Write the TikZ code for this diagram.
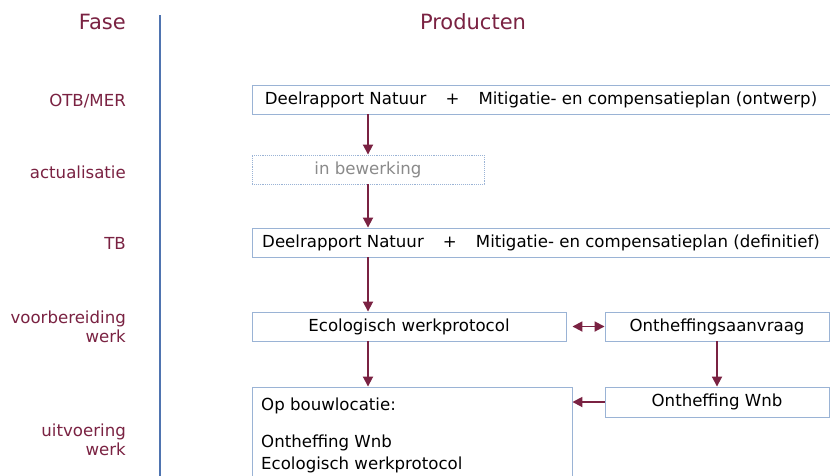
\documentclass[tikz,border=0pt]{standalone}
\usepackage{fontspec}
\setmainfont{DejaVu Sans}
\usetikzlibrary{arrows.meta}
\definecolor{maroon}{HTML}{7A2242}
\definecolor{boxline}{HTML}{9AB3D5}
\definecolor{axisline}{HTML}{4F74B0}
\definecolor{greytext}{HTML}{8A8A8A}
\tikzset{
  prodbox/.style={draw=boxline, line width=0.9pt, rectangle, minimum height=29pt,
    inner sep=0pt, font=\fontsize{16.6}{19}\selectfont, text=black},
  phase/.style={anchor=east, align=right, text=maroon, inner sep=0pt,
    font=\fontsize{16.6}{19.5}\selectfont},
  heading/.style={text=maroon, inner sep=0pt, font=\fontsize{21}{24}\selectfont},
  flow/.style={draw=maroon, line width=1.8pt, -{Triangle[width=10pt,length=10pt]}},
  flowboth/.style={draw=maroon, line width=1.8pt, {Triangle[width=10pt,length=10pt]}-{Triangle[width=10pt,length=10pt]}}
}
\begin{document}
\begin{tikzpicture}[x=1pt,y=-1pt]
\useasboundingbox (0,0) rectangle (830,475);
\fill[white] (0,0) rectangle (830,475);

% column headings and separator
\node[heading, anchor=east] (fase) at (126,22) {Fase};
\node[heading] (prod) at (473,22) {Producten};
\coordinate (axtop) at (160,15);
\coordinate (axbot) at (160,480);
\draw[axisline, line width=1.6pt] (axtop) -- (axbot);

% phases
\node[phase] (p1) at (126,101) {OTB/MER};
\node[phase] (p2) at (126,172) {actualisatie};
\node[phase] (p3) at (126,243) {TB};
\node[phase] (p4) at (126,327) {voorbereiding\\werk};
\node[phase] (p5) at (126,440) {uitvoering\\werk};

% products
\node[prodbox, minimum width=578pt] (b1) at (541,99.5)
  {Deelrapport Natuur\hspace{1.15em}+\hspace{1.15em}Mitigatie- en compensatieplan (ontwerp)};
\node[prodbox, minimum width=232pt, densely dotted, text=greytext] (b2) at (368,169.5) {in bewerking};
\node[prodbox, minimum width=578pt] (b3) at (541,242.5)
  {Deelrapport Natuur\hspace{1.15em}+\hspace{1.15em}Mitigatie- en compensatieplan (definitief)};
\node[prodbox, minimum width=314pt] (b4) at (409,326.5) {Ecologisch werkprotocol};
\node[prodbox, minimum width=224pt] (b5) at (717,326.5) {Ontheffingsaanvraag};
\node[prodbox, minimum width=224pt, minimum height=30pt] (b7) at (717,402) {Ontheffing Wnb};
\node[prodbox, minimum width=320pt, minimum height=103pt] (b6) at (412,438.5) {};
\node[anchor=north west, align=left, inner sep=0pt, font=\fontsize{16.6}{22}\selectfont]
  (b6text) at (261,398) {Op bouwlocatie:\\[15pt]Ontheffing Wnb\\Ecologisch werkprotocol};

% connectors
\draw[flow] (b1.south -| b2) -- (b2.north);
\draw[flow] (b2.south) -- (b3.north -| b2);
\draw[flow] (b3.south -| b2) -- (b4.north -| b2);
\draw[flow] (b4.south -| b2) -- (b6.north -| b2);
\draw[flow] (b5.south) -- (b7.north);
\draw[flow] (b7.west) -- (b7.west -| b6.east);
\draw[flowboth, shorten <=6pt] (b4.east) -- (b5.west);
\end{tikzpicture}
\end{document}
